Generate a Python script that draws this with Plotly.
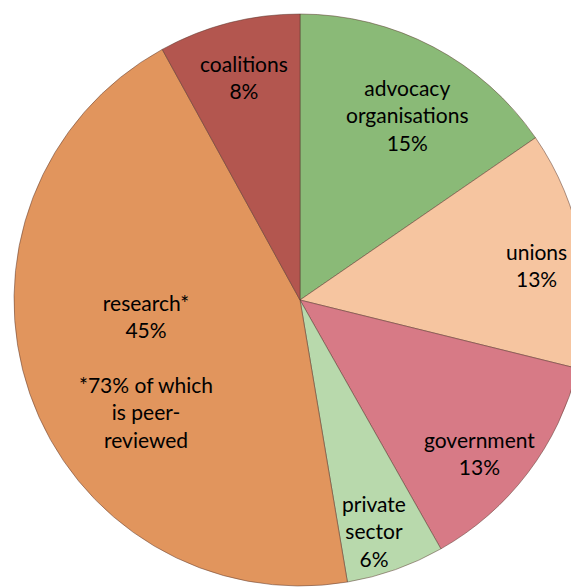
import plotly.graph_objects as go

categories = ["advocacy organisations", "unions", "government", "private sector", "research*", "coalitions"]
values = [15.4, 13.45, 12.95, 5.55, 44.65, 8.0]
display_labels = ["advocacy<br>organisations", "unions", "government", "private<br>sector", "research*", "coalitions"]
notes = ["", "", "", "", "<br><br>*73% of which<br>is peer-<br>reviewed", ""]
colors = ["#8ABA77", "#F6C5A0", "#D77A86", "#B8D9AC", "#E1955D", "#B3564F"]

W, H = 579, 588
# label anchor points (figure pixels)
label_px = [(399, 107), (528, 257), (471, 445), (366, 523), (138, 363), (236, 69)]

fig = go.Figure(go.Pie(
    labels=categories,
    values=values,
    sort=False,
    direction="clockwise",
    rotation=0,
    marker=dict(colors=colors, line=dict(color="rgba(90,55,45,0.5)", width=1)),
    textinfo="none",
    showlegend=False,
    hoverinfo="label+percent",
    domain=dict(x=[6 / W, 578 / W], y=[10 / H, 582 / H]),
))

total = sum(values)
annotations = []
for lab, v, note, (px, py) in zip(display_labels, values, notes, label_px):
    pct = f"{round(100 * v / total):.0f}%"
    annotations.append(dict(
        x=px / W, y=1 - py / H, xref="paper", yref="paper",
        xanchor="center", yanchor="middle",
        text=f"{lab}<br>{pct}{note}",
        showarrow=False, align="center",
        font=dict(family="Lato", size=21, color="#000000"),
    ))

fig.update_layout(
    width=W, height=H,
    margin=dict(l=0, r=0, t=0, b=0),
    paper_bgcolor="white",
    plot_bgcolor="white",
    annotations=annotations,
)

fig.write_html("out.html")
